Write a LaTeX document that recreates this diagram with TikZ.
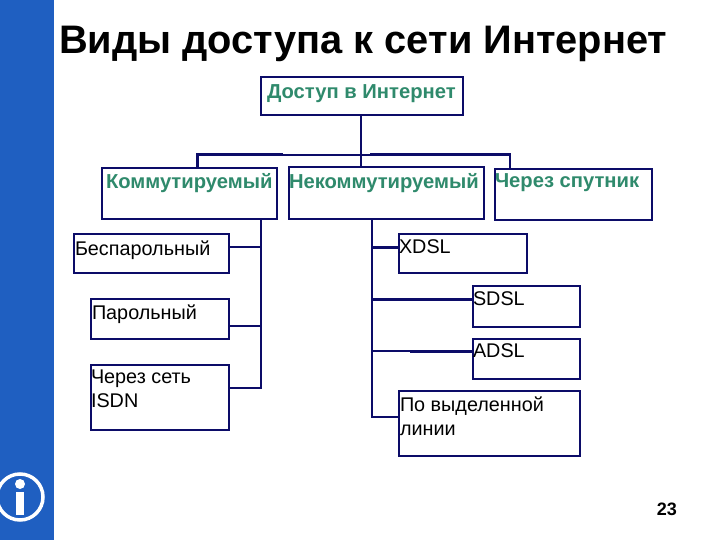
\documentclass[tikz,border=0pt]{standalone}
\usepackage{fontspec}
\setmainfont{Liberation Sans}
\definecolor{bandblue}{HTML}{1F5FC1}
\definecolor{linenavy}{HTML}{0C0C68}
\definecolor{headgreen}{HTML}{2F8A6C}
\newcommand{\boxtext}[5]{\parbox[c][#2pt][t]{#1pt}{\vspace*{#4pt}\hspace*{#3pt}\makebox[0pt][l]{\parbox[t]{300pt}{\baselineskip=24pt #5}}}}
\tikzset{
  x=1pt,y=-1pt,
  boxbase/.style={draw=linenavy,line width=2.1pt,fill=white,inner sep=0pt,outer sep=0pt,anchor=north west},
  headbox/.style={boxbase,text=headgreen,font=\fontsize{20.2}{23}\selectfont\bfseries},
  leafbox/.style={boxbase,text=black,font=\fontsize{19.8}{24}\selectfont},
  link/.style={draw=linenavy,line width=2.2pt},
  thick link/.style={draw=linenavy,line width=3pt},
}
\begin{document}
\begin{tikzpicture}
\useasboundingbox (0,0) rectangle (720,540);
\fill[white] (0,0) rectangle (720,540);
\fill[bandblue] (0,0) rectangle (54,540);
% info icon
\coordinate (ic) at (20,497);
\draw[white,line width=3.5pt] (ic) circle[radius=23];
\fill[white] (20,484) circle[radius=5];
\fill[white] (16,492) rectangle (24,515);
% title
\node[anchor=base west,inner sep=0pt,font=\fontsize{39.8}{42}\selectfont\bfseries,text=black] (title) at (59,54) {Виды доступа к сети Интернет};
\node[anchor=base east,inner sep=0pt,font=\fontsize{18}{22}\selectfont\bfseries,text=black] (page) at (677,515) {23};
% boxes
\node[headbox] (root) at (261,77) {\boxtext{202}{38}{6}{8}{Доступ в Интернет}};
\node[headbox] (comm) at (102,168) {\boxtext{175}{51}{4}{5}{Коммутируемый}};
\node[headbox] (ncom) at (289,167) {\boxtext{195}{52}{0}{6}{Некоммутируемый}};
\node[headbox] (sat) at (495,169) {\boxtext{157}{51}{0}{5}{Через спутник}};
\node[leafbox] (nopass) at (74,234) {\boxtext{155}{39}{1}{7}{Беспарольный}};
\node[leafbox] (pass) at (91,299) {\boxtext{138}{40}{1}{6}{Парольный}};
\node[leafbox] (isdn) at (91,365) {\boxtext{138}{65}{0}{5}{Через сеть\\ISDN}};
\node[leafbox] (xdsl) at (399,234) {\boxtext{128}{39}{0}{6}{XDSL}};
\node[leafbox] (sdsl) at (473,286) {\boxtext{107}{41}{0}{6}{SDSL}};
\node[leafbox] (adsl) at (473,339) {\boxtext{107}{40}{0}{5}{ADSL}};
\node[leafbox] (lease) at (399,391) {\boxtext{181}{65}{1}{6}{По выделенной\\линии}};
% connectors
\coordinate (bus) at (361,155);
\coordinate (cdown) at (261,388);
\coordinate (ndown) at (372,417);
\draw[link] (root.south -| bus) -- (ncom.north -| bus);
\draw[thick link] (comm.north -| 197,0) -- (197,155) -- (283,155);
\draw[link] (283,155) -- (370,155);
\draw[thick link] (370,154.5) -- (495,154.5);
\draw[link] (495,154.5) -- (510,154.5) -- (sat.north -| 510,0);
\draw[link] (comm.south -| cdown) -- (cdown) -- (isdn.east |- cdown);
\draw[link] (nopass.east |- 0,247) -- (cdown |- 0,247);
\draw[link] (pass.east |- 0,326) -- (cdown |- 0,326);
\draw[draw=linenavy,line width=2.6pt] (ncom.south -| ndown) -- (ndown) -- (lease.west |- ndown);
\draw[thick link] (ndown |- 0,247) -- (xdsl.west |- 0,247);
\draw[thick link] (ndown |- 0,299) -- (sdsl.west |- 0,299);
\draw[link] (ndown |- 0,351) -- (410,351);
\draw[thick link] (410,351) -- (adsl.west |- 0,351);
\end{tikzpicture}
\end{document}
